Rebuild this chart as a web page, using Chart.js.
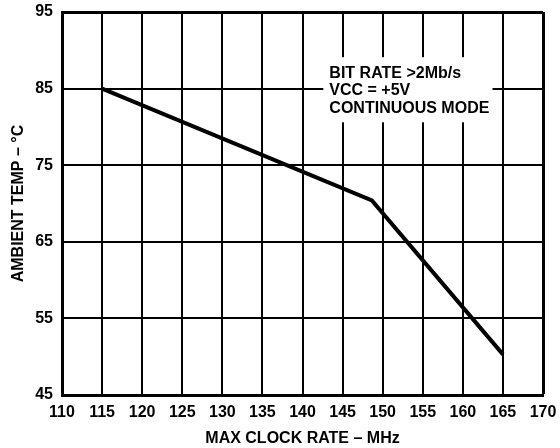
<!DOCTYPE html>
<html>
<head>
<meta charset="utf-8">
<script src="https://cdn.jsdelivr.net/npm/chart.js@4/dist/chart.umd.min.js"></script>
<style>
html,body{margin:0;padding:0;background:#fff;}
#wrap{width:560px;height:448px;}
</style>
</head>
<body>
<div id="wrap"><canvas id="c" width="560" height="448"></canvas></div>
<script>
const clockRate = [115, 148.65, 165];
const ambientTemp = [85, 70.4, 50.3];
const xTicks = [110,115,120,125,130,135,140,145,150,155,160,165,170];
const yTicks = [45,55,65,75,85,95];
const noteLines = ["BIT RATE >2Mb/s", "VCC = +5V", "CONTINUOUS MODE"];
const xTitle = "MAX CLOCK RATE – MHz";
const yTitle = "AMBIENT TEMP – °C";

const FONT = "'Liberation Sans', Arial, sans-serif";

const notePlugin = {
  id: 'note',
  beforeDatasetsDraw(chart) {
    const {ctx, scales:{x, y}} = chart;
    const x0 = x.getPixelForValue(142.6), x1 = x.getPixelForValue(163.7);
    const y0 = y.getPixelForValue(89.1), y1 = y.getPixelForValue(80.6);
    ctx.save();
    ctx.fillStyle = '#fff';
    ctx.fillRect(x0, y0, x1 - x0, y1 - y0);
    ctx.fillStyle = '#000';
    ctx.font = "bold 16px " + FONT;
    ctx.textBaseline = 'middle';
    ctx.textAlign = 'left';
    const tx = x.getPixelForValue(143.35);
    const ty = y.getPixelForValue(86.97);
    noteLines.forEach((t, i) => ctx.fillText(t, tx, ty + i * 17.5));
    ctx.restore();
  }
};

new Chart(document.getElementById('c'), {
  type: 'line',
  data: {
    datasets: [{
      data: clockRate.map((v, i) => ({x: v, y: ambientTemp[i]})),
      borderColor: '#000',
      borderWidth: 4,
      pointRadius: 0,
      tension: 0,
      fill: false
    }]
  },
  options: {
    responsive: false,
    animation: false,
    devicePixelRatio: 1,
    layout: {padding: {top: 12, right: 17, left: 0, bottom: 0}},
    plugins: {legend: {display: false}, tooltip: {enabled: false}},
    scales: {
      x: {
        type: 'linear',
        min: 110, max: 170,
        afterBuildTicks(s) { s.ticks = xTicks.map(v => ({value: v})); },
        afterFit(s) { s.height = 53; s.paddingLeft = 0; s.paddingRight = 0; },
        grid: {
          color: '#000',
          lineWidth: c => (c.tick && c.tick.value === 170) ? 3 : 2,
          drawTicks: false
        },
        border: {color: '#000', width: 3},
        ticks: {color: '#000', font: {family: FONT, weight: 'bold', size: 16}, padding: 8, maxRotation: 0, autoSkip: false},
        title: {display: true, text: xTitle, color: '#000', font: {family: FONT, weight: 'bold', size: 16}, padding: {top: 0, bottom: 0}}
      },
      y: {
        type: 'linear',
        min: 45, max: 95,
        afterBuildTicks(s) { s.ticks = yTicks.map(v => ({value: v})); },
        afterFit(s) { s.width = 62; s.paddingTop = 0; s.paddingBottom = 0; },
        grid: {
          color: '#000',
          lineWidth: c => (c.tick && c.tick.value === 95) ? 3 : 2,
          drawTicks: false
        },
        border: {color: '#000', width: 3},
        ticks: {color: '#000', font: {family: FONT, weight: 'bold', size: 16}, padding: 9, autoSkip: false},
        title: {display: true, text: yTitle, color: '#000', font: {family: FONT, weight: 'bold', size: 16}, padding: {top: 9, bottom: 0}}
      }
    }
  },
  plugins: [notePlugin]
});
</script>
</body>
</html>
